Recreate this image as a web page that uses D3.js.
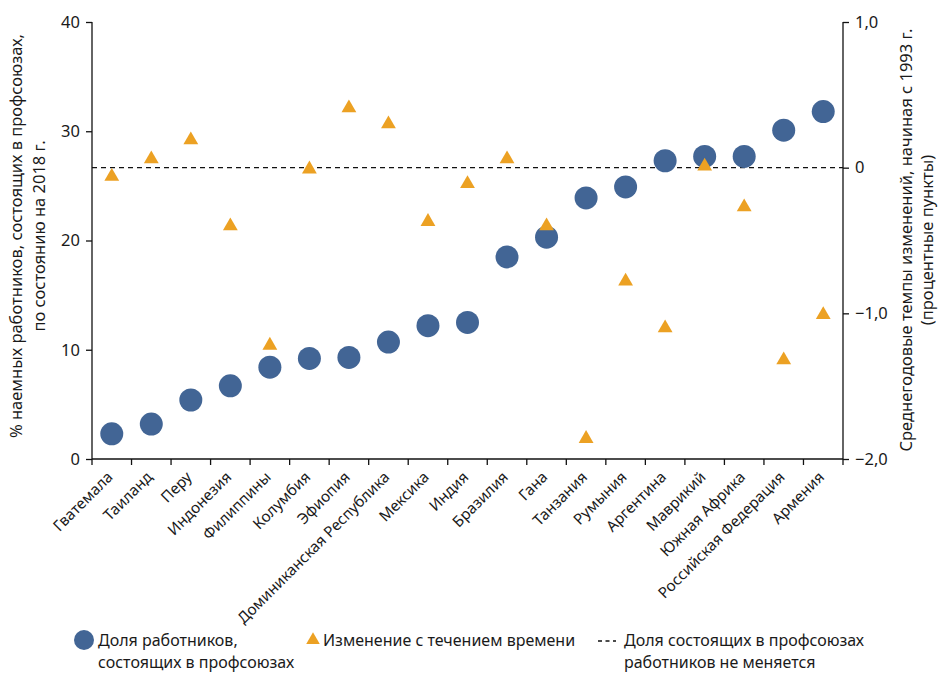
<!DOCTYPE html>
<html><head><meta charset="utf-8">
<script src="https://cdn.jsdelivr.net/npm/d3@7"></script>
<style>
body{margin:0;background:#fff}
svg{display:block}
text{font-family:"Noto Sans",sans-serif;fill:#1a1a1a}
</style>
</head><body>
<svg id="c" width="939" height="673"></svg>
<script>
const countries=["Гватемала","Таиланд","Перу","Индонезия","Филиппины","Колумбия","Эфиопия","Доминиканская Республика","Мексика","Индия","Бразилия","Гана","Танзания","Румыния","Аргентина","Маврикий","Южная Африка","Российская Федерация","Армения"];
const shareValues=[2.3,3.2,5.4,6.7,8.4,9.2,9.3,10.7,12.2,12.5,18.5,20.3,23.9,24.9,27.3,27.7,27.7,30.1,31.8];
const changeValues=[-0.05,0.07,0.2,-0.39,-1.21,0.0,0.42,0.31,-0.36,-0.1,0.07,-0.39,-1.85,-0.77,-1.09,0.02,-0.26,-1.31,-1.0];
const leftTicks=[0,10,20,30,40];
const rightTicks=[1,0,-1,-2];
const rightTickLabels=["1,0","0","−1,0","−2,0"];
const leftTitle=["% наемных работников, состоящих в профсоюзах,","по состоянию на 2018 г."];
const rightTitle=["Среднегодовые темпы изменений, начиная с 1993 г.","(процентные пункты)"];
const legendCircle=["Доля работников,","состоящих в профсоюзах"];
const legendTriangle="Изменение с течением времени";
const legendLine=["Доля состоящих в профсоюзах","работников не меняется"];

const BLUE="#426595", ORANGE="#eca123";
const L=92,R=843,T=22,B=459;
const svg=d3.select("#c");
const x=d3.scaleBand().domain(countries).range([L,R]);
const yL=d3.scaleLinear().domain([0,40]).range([B,T]);
const yR=d3.scaleLinear().domain([-2,1]).range([B,T]);

// dashed zero line
svg.append("line").attr("x1",L).attr("x2",R).attr("y1",yR(0)).attr("y2",yR(0))
  .attr("stroke","#111").attr("stroke-width",1.3).attr("stroke-dasharray","5,4");

// left axis
const gL=svg.append("g").attr("transform",`translate(${L},0)`)
  .call(d3.axisLeft(yL).tickValues(leftTicks).tickSize(6).tickPadding(6).tickFormat(d3.format("d")));
gL.select(".domain").attr("stroke","#111").attr("stroke-width",1.3).attr("d",`M0,${T}V${B}`);
gL.selectAll(".tick line").attr("stroke","#111").attr("stroke-width",1.3);
gL.selectAll(".tick text").style("font-size","16.5px").attr("fill","#1a1a1a");

// right axis
const gR=svg.append("g").attr("transform",`translate(${R},0)`)
  .call(d3.axisRight(yR).tickValues(rightTicks).tickSize(6).tickPadding(6).tickFormat((d,i)=>rightTickLabels[i]));
gR.select(".domain").attr("stroke","#111").attr("stroke-width",1.3).attr("d",`M0,${T}V${B}`);
gR.selectAll(".tick line").attr("stroke","#111").attr("stroke-width",1.3);
gR.selectAll(".tick text").style("font-size","16.5px").attr("fill","#1a1a1a");

// bottom axis line and ticks at band edges
svg.append("line").attr("x1",L).attr("x2",R).attr("y1",B).attr("y2",B).attr("stroke","#111").attr("stroke-width",1.3);
const edges=countries.map(c=>x(c)).concat([R]);
svg.append("g").selectAll("line").data(edges).join("line")
  .attr("x1",d=>d).attr("x2",d=>d).attr("y1",B).attr("y2",B+6).attr("stroke","#111").attr("stroke-width",1.3);
svg.append("g").selectAll("text").data(countries).join("text")
  .attr("transform",d=>`translate(${x(d)+x.bandwidth()/2+2},${B+19}) rotate(-45)`)
  .attr("text-anchor","end").style("font-size","15.2px").text(d=>d);

// circles
svg.append("g").selectAll("circle").data(countries).join("circle")
  .attr("cx",d=>x(d)+x.bandwidth()/2).attr("cy",(d,i)=>yL(shareValues[i])).attr("r",11.5).attr("fill",BLUE);

// triangles
const tri=d3.symbol().type(d3.symbolTriangle).size(95);
svg.append("g").selectAll("path").data(countries).join("path")
  .attr("d",tri).attr("fill",ORANGE)
  .attr("transform",(d,i)=>`translate(${x(d)+x.bandwidth()/2},${yR(changeValues[i])+1.5})`);

// axis titles
const lt=svg.append("text").attr("transform",`translate(22,236) rotate(-90)`).attr("text-anchor","middle").style("font-size","16.5px");
leftTitle.forEach((s,i)=>lt.append("tspan").attr("x",0).attr("dy",i?"1.4em":0).text(s));
const rt=svg.append("text").attr("transform",`translate(912,240) rotate(-90)`).attr("text-anchor","middle").style("font-size","16.5px");
rightTitle.forEach((s,i)=>rt.append("tspan").attr("x",0).attr("dy",i?"1.3em":0).text(s));

// legend
const lg=svg.append("g").style("font-size","16px");
lg.append("circle").attr("cx",84).attr("cy",640).attr("r",10).attr("fill",BLUE);
const t1=lg.append("text").attr("x",98).attr("y",646);
legendCircle.forEach((s,i)=>t1.append("tspan").attr("x",98).attr("dy",i?"1.37em":0).text(s));
lg.append("path").attr("d",d3.symbol().type(d3.symbolTriangle).size(80)).attr("fill",ORANGE).attr("transform","translate(313,640)");
lg.append("text").attr("x",323).attr("y",646).text(legendTriangle);
lg.append("line").attr("x1",598).attr("x2",616).attr("y1",641).attr("y2",641).attr("stroke","#111").attr("stroke-width",1.3).attr("stroke-dasharray","4,3.5");
const t3=lg.append("text").attr("x",624).attr("y",646);
legendLine.forEach((s,i)=>t3.append("tspan").attr("x",624).attr("dy",i?"1.37em":0).text(s));
</script>
</body></html>
